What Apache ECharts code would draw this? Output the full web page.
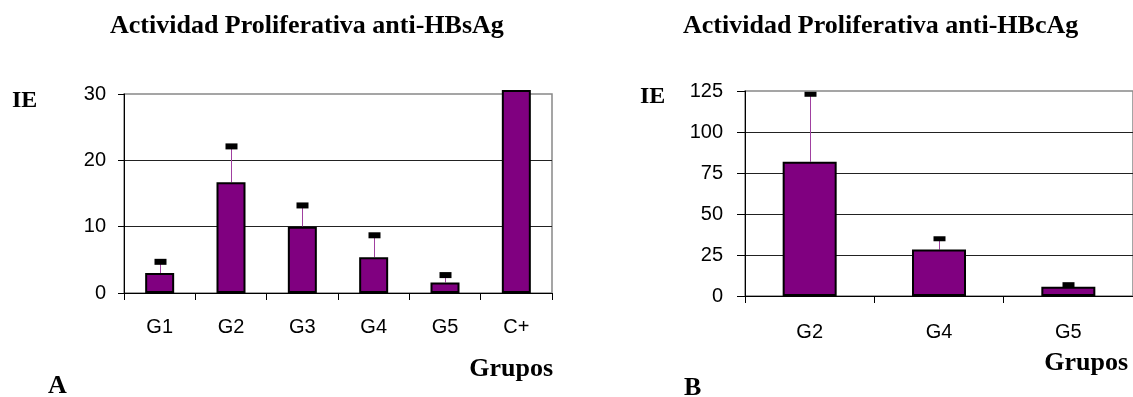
<!DOCTYPE html>
<html>
<head>
<meta charset="utf-8">
<script src="https://cdn.jsdelivr.net/npm/echarts@6/dist/echarts.min.js"></script>
<style>
  html, body { margin: 0; padding: 0; background: #fff; }
  #chart { width: 1133px; height: 397px; }
</style>
</head>
<body>
<div id="chart"></div>
<script>
// ---- Data ----
const titleA = 'Actividad Proliferativa anti-HBsAg';
const titleB = 'Actividad Proliferativa anti-HBcAg';
const categoriesA = ['G1', 'G2', 'G3', 'G4', 'G5', 'C+'];
const meansA = [3.0, 16.7, 10.0, 5.4, 1.6, 30.6];
const sdA = [1.7, 5.4, 3.2, 3.3, 1.1, null];
const yTicksA = { min: 0, max: 30, interval: 10 };

const categoriesB = ['G2', 'G4', 'G5'];
const meansB = [81.9, 28.3, 5.6];
const sdB = [41.1, 6.6, 1.3];
const yTicksB = { min: 0, max: 125, interval: 25 };

const yLabel = 'IE';
const xLabel = 'Grupos';

// ---- Styling ----
const PURPLE = '#800080';
const WHISKER = '#a040a0';
const SANS = '"Liberation Sans", Arial, sans-serif';
const SERIF = '"Liberation Serif", "Times New Roman", serif';

function errData(means, sds) {
  const out = [];
  means.forEach((m, i) => {
    if (sds[i] != null) out.push([i, m, m + sds[i]]);
  });
  return out;
}

function errRender(capW, capH) {
  return function (params, api) {
    const x = api.value(0);
    const p0 = api.coord([x, api.value(1)]);
    const p1 = api.coord([x, api.value(2)]);
    const cx = Math.round(p0[0]) + 0.5;
    return {
      type: 'group',
      children: [
        { type: 'line', shape: { x1: cx, y1: p0[1], x2: cx, y2: p1[1] },
          style: { stroke: WHISKER, lineWidth: 1 } },
        { type: 'rect', shape: { x: cx - capW / 2, y: p1[1] - capH / 2, width: capW, height: capH },
          style: { fill: '#000' } }
      ]
    };
  };
}

function xAxisCfg(gridIndex, cats, margin) {
  return {
    type: 'category', gridIndex, data: cats,
    axisLine: { lineStyle: { color: '#000', width: 1 } },
    axisTick: { show: true, length: 7, lineStyle: { color: '#000' } },
    axisLabel: { color: '#000', fontFamily: SANS, fontSize: 20, margin }
  };
}
function yAxisCfg(gridIndex, t, margin, tickLen) {
  return {
    type: 'value', gridIndex, min: t.min, max: t.max, interval: t.interval,
    axisLine: { show: true, lineStyle: { color: '#000', width: 1 } },
    axisTick: { show: true, length: tickLen, lineStyle: { color: '#000' } },
    axisLabel: { color: '#000', fontFamily: SANS, fontSize: 20, margin },
    splitLine: { show: true, showMaxLine: false, lineStyle: { color: '#222', width: 1 } }
  };
}

function textEl(text, x, y, size, align) {
  return {
    type: 'text', x, y, silent: true,
    style: { text, fill: '#000', font: 'bold ' + size + 'px ' + SERIF,
             align: align || 'left', verticalAlign: 'middle' }
  };
}

const chart = echarts.init(document.getElementById('chart'), null, { renderer: 'canvas' });
chart.setOption({
  animation: false,
  backgroundColor: '#fff',
  grid: [
    { left: 124, top: 94, width: 428, height: 199, show: true, borderColor: '#888', borderWidth: 1.5, backgroundColor: 'transparent' },
    { left: 745, top: 91, width: 388, height: 205, show: true, borderColor: '#888', borderWidth: 1.5, backgroundColor: 'transparent' }
  ],
  xAxis: [xAxisCfg(0, categoriesA, 24), xAxisCfg(1, categoriesB, 26)],
  yAxis: [yAxisCfg(0, yTicksA, 18, 6), yAxisCfg(1, yTicksB, 22, 8)],
  graphic: [
    textEl(titleA, 110, 26, 26),
    textEl(titleB, 683, 26, 26),
    textEl(yLabel, 12, 101, 24),
    textEl(yLabel, 640, 97, 24),
    textEl(xLabel, 553, 369, 26, 'right'),
    textEl(xLabel, 1128, 363, 26, 'right'),
    textEl('A', 48, 386, 26),
    textEl('B', 684, 388, 26)
  ],
  series: [
    { type: 'custom', xAxisIndex: 0, yAxisIndex: 0, z: 1,
      renderItem: errRender(12, 6), data: errData(meansA, sdA), encode: { x: 0, y: [1, 2] } },
    { type: 'bar', xAxisIndex: 0, yAxisIndex: 0, z: 2, data: meansA, barWidth: 29, clip: false,
      itemStyle: { color: PURPLE, borderColor: '#000', borderWidth: 2 } },
    { type: 'custom', xAxisIndex: 1, yAxisIndex: 1, z: 1,
      renderItem: errRender(12, 5), data: errData(meansB, sdB), encode: { x: 0, y: [1, 2] } },
    { type: 'bar', xAxisIndex: 1, yAxisIndex: 1, z: 2, data: meansB, barWidth: 54, clip: false,
      itemStyle: { color: PURPLE, borderColor: '#000', borderWidth: 2 } }
  ]
});
</script>
</body>
</html>
